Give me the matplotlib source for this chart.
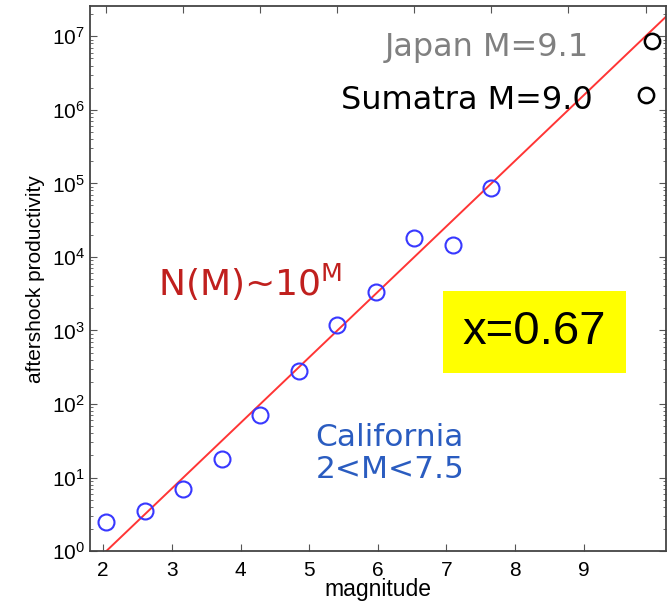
import numpy as np
import matplotlib
matplotlib.use("Agg")
import matplotlib.pyplot as plt

plt.rcParams['font.family'] = ['Liberation Sans', 'DejaVu Sans']
plt.rcParams['mathtext.fontset'] = 'custom'
plt.rcParams['mathtext.rm'] = 'DejaVu Sans'

# California aftershock productivity
mag_ca = [2.0, 2.5, 3.0, 3.5, 4.0, 4.5, 5.0, 5.5, 6.0, 6.5, 7.0]
prod_ca = [2.5, 3.5, 7.0, 18, 70, 280, 1200, 3300, 18000, 14500, 87000]

# big events
mag_big = [9.0, 9.08]
prod_big = [1.6e6, 8.5e6]

# N(M) ~ 10^(M-2)
fit_m = np.array([2.0, 9.3])
fit_n = 10 ** (fit_m - 2.0)

xticks = [2, 3, 4, 5, 6, 7, 8, 9]

fig = plt.figure(figsize=(6.67, 6.07), dpi=100)
ax = fig.add_axes([0.135, 0.092, 0.864, 0.898])

ax.plot(fit_m, fit_n, color='#ff3535', lw=1.4)
ax.plot(mag_ca, prod_ca, 'o', ms=11.5, mfc='none', mec='#3838ff', mew=1.5)
ax.plot(mag_big, prod_big, 'o', ms=11, mfc='none', mec='black', mew=1.8)

ax.set_yscale('log')
ax.set_xlim(1.79, 9.27)
ax.set_ylim(1, 10 ** 7.41)

ax.set_xticks(xticks)
ax.tick_params(axis='x', which='both', direction='in', top=True, bottom=False,
               labelbottom=False, length=5, color='#555555')
ax.tick_params(axis='y', which='both', direction='in', left=True, right=True,
               labelsize=15, color='#555555')
ax.tick_params(axis='y', which='major', length=5)
ax.tick_params(axis='y', which='minor', length=2.5)
ax.xaxis.label.set_visible(False)
ax.xaxis.get_offset_text().set_visible(False)
for s in ax.spines.values():
    s.set_color('#444444')
    s.set_linewidth(1.3)

# bottom labels as drawn in the original
def to_lab(x):
    return 2 + ((np.asarray(x) - 2) * 77 + 3) / 68.6

def from_lab(l):
    return 2 + ((np.asarray(l) - 2) * 68.6 - 3) / 77

sec = ax.secondary_xaxis('bottom', functions=(to_lab, from_lab))
sec.set_xticks(xticks)
sec.tick_params(direction='in', length=5, labelsize=15, color='#555555', pad=7)
sec.spines['bottom'].set_visible(False)
sec.set_xlabel('magnitude', fontsize=16.5, labelpad=-1)

ax.set_ylabel('aftershock productivity', fontsize=15, labelpad=5)

ax.text(6.94, 10 ** 6.85, 'Japan M=9.1', color='#808080', fontsize=23,
        family='DejaVu Sans', ha='center', va='center')
ax.text(6.68, 10 ** 6.12, 'Sumatra M=9.0', color='black', fontsize=23,
        family='DejaVu Sans', ha='center', va='center')
ax.text(3.87, 10 ** 3.66, r'N(M)~10$^\mathrm{M}$', color='#c0201e', fontsize=26,
        family='DejaVu Sans', ha='center', va='center')
ax.text(5.68, 10 ** 1.33, 'California\n2<M<7.5', color='#2a5cc0', fontsize=22.5,
        family='DejaVu Sans', ha='center', va='center', linespacing=1.12)
ax.text(7.56, 10 ** 2.98, 'x=0.67', color='black', fontsize=34,
        ha='center', va='center',
        bbox=dict(facecolor='#ffff00', edgecolor='none', pad=14))

fig.savefig('out.png', dpi=100)
